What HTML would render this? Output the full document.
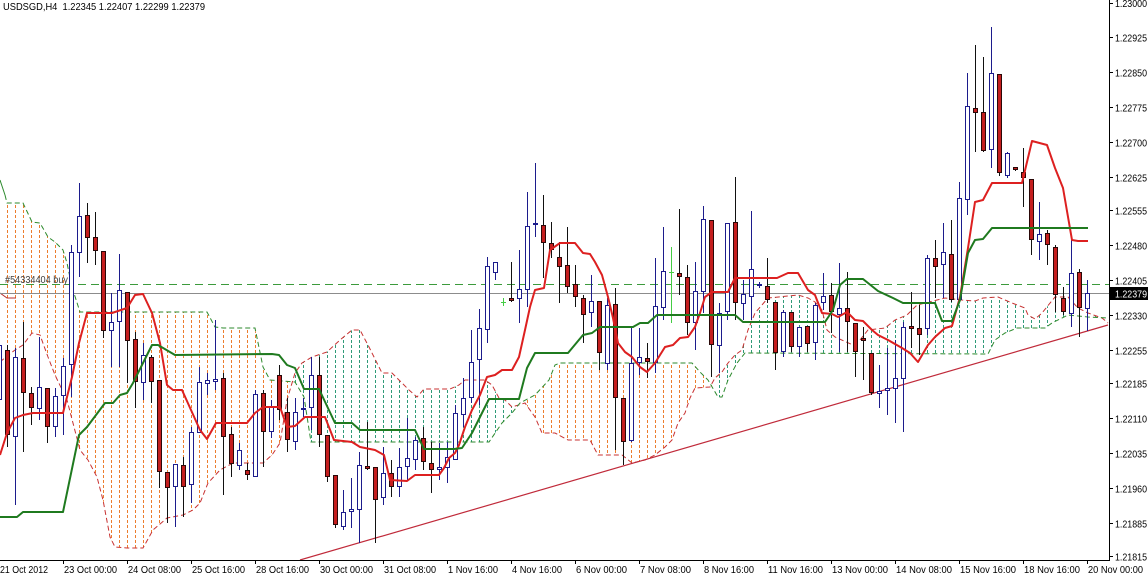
<!DOCTYPE html>
<html><head><meta charset="utf-8"><style>
html,body{margin:0;padding:0;background:#fff;width:1148px;height:575px;overflow:hidden}
svg{display:block}
text{font-family:"Liberation Sans",sans-serif;font-size:10.5px;fill:#000}
.bw{stroke:#1c1c8c;stroke-width:1;fill:none}
.bb{fill:#fff;stroke:#1c1c8c;stroke-width:1}
.rw{stroke:#111;stroke-width:1;fill:none}
.rb{fill:#c41e1e;stroke:#2a0808;stroke-width:1}
</style></head><body>
<svg width="1148" height="575" viewBox="0 0 1148 575" xmlns="http://www.w3.org/2000/svg">
<defs>
<clipPath id="co"><rect x="0" y="0" width="292" height="560"/><rect x="518" y="0" width="194" height="560"/></clipPath>
<clipPath id="ct"><rect x="292" y="0" width="226" height="560"/><rect x="712" y="0" width="397" height="560"/></clipPath>
<clipPath id="cp"><polygon points="0,362 7,356 15,350 23,345 32,333 40,335 48,357 55,375 67,400 80,450 88,460 97,477 103,500 110,537 115,547 127,548 143,548 153,530 167,518 183,515 193,510 200,503 208,483 220,470 233,463 263,463 272,455 280,443 287,400 295,373 302,363 312,357 327,352 340,340 352,330 360,330 369,347 382,373 392,373 409,390 417,397 424,389 450,389 459,385 465,380 485,380 492,385 499,398 505,400 512,407 525,403 535,417 542,433 555,433 568,440 590,440 598,455 622,455 632,463 645,460 655,455 665,447 672,440 678,423 685,413 690,398 695,388 710,387 715,378 722,372 728,363 735,355 742,350 748,330 755,313 768,298 798,295 808,298 815,302 822,310 827,330 835,337 853,345 860,340 868,330 885,328 895,320 907,315 917,305 945,298 962,300 975,301 983,298 998,297 1012,303 1025,308 1028,315 1035,319 1042,313 1055,297 1068,297 1078,308 1088,313 1102,318 1109,323 1109,318 1088,317 1068,315 1052,323 1045,328 1017,328 1005,333 995,340 988,354 745,353 737,363 728,380 722,397 718,397 708,380 700,372 692,363 560,363 555,365 549,380 535,395 520,403 512,413 502,423 489,442 311,442 304,397 295,382 270,380 263,367 255,328 223,328 215,327 207,312 80,312 72,287 67,263 63,250 55,242 48,237 40,223 32,222 23,203 7,203 5,195 0,180"/></clipPath>
<clipPath id="plot"><rect x="0" y="0" width="1109" height="560"/></clipPath>
</defs>
<g clip-path="url(#plot)">
<g clip-path="url(#co)"><g clip-path="url(#cp)"><path fill="none" stroke="#ec7d2e" stroke-width="1" stroke-dasharray="3,2" shape-rendering="crispEdges" d="M7.5 0v560m8-560v560m8-560v560m8-560v560m8-560v560m8-560v560m8-560v560m8-560v560m8-560v560m8-560v560m8-560v560m8-560v560m8-560v560m8-560v560m8-560v560m8-560v560m8-560v560m8-560v560m8-560v560m8-560v560m8-560v560m8-560v560m8-560v560m8-560v560m8-560v560m8-560v560m8-560v560m8-560v560m8-560v560m8-560v560m8-560v560m8-560v560m8-560v560m8-560v560m8-560v560m8-560v560m8-560v560m8-560v560m8-560v560m8-560v560m8-560v560m8-560v560m8-560v560m8-560v560m8-560v560m8-560v560m8-560v560m8-560v560m8-560v560m8-560v560m8-560v560m8-560v560m8-560v560m8-560v560m8-560v560m8-560v560m8-560v560m8-560v560m8-560v560m8-560v560m8-560v560m8-560v560m8-560v560m8-560v560m8-560v560m8-560v560m8-560v560m8-560v560m8-560v560m8-560v560m8-560v560m8-560v560m8-560v560m8-560v560m8-560v560m8-560v560m8-560v560m8-560v560m8-560v560m8-560v560m8-560v560m8-560v560m8-560v560m8-560v560m8-560v560m8-560v560m8-560v560m8-560v560m8-560v560m8-560v560m8-560v560m8-560v560m8-560v560m8-560v560m8-560v560m8-560v560m8-560v560m8-560v560m8-560v560m8-560v560m8-560v560m8-560v560m8-560v560m8-560v560m8-560v560m8-560v560m8-560v560m8-560v560m8-560v560m8-560v560m8-560v560m8-560v560m8-560v560m8-560v560m8-560v560m8-560v560m8-560v560m8-560v560m8-560v560m8-560v560m8-560v560m8-560v560m8-560v560m8-560v560m8-560v560m8-560v560m8-560v560m8-560v560m8-560v560m8-560v560m8-560v560m8-560v560m8-560v560m8-560v560m8-560v560m8-560v560m8-560v560m8-560v560m8-560v560m8-560v560m8-560v560m8-560v560m8-560v560m8-560v560m8-560v560m8-560v560m8-560v560m8-560v560m8-560v560m8-560v560m8-560v560m8-560v560"/></g></g>
<g clip-path="url(#ct)"><g clip-path="url(#cp)"><path fill="none" stroke="#2f9a78" stroke-width="1" stroke-dasharray="3,2" shape-rendering="crispEdges" d="M7.5 0v560m8-560v560m8-560v560m8-560v560m8-560v560m8-560v560m8-560v560m8-560v560m8-560v560m8-560v560m8-560v560m8-560v560m8-560v560m8-560v560m8-560v560m8-560v560m8-560v560m8-560v560m8-560v560m8-560v560m8-560v560m8-560v560m8-560v560m8-560v560m8-560v560m8-560v560m8-560v560m8-560v560m8-560v560m8-560v560m8-560v560m8-560v560m8-560v560m8-560v560m8-560v560m8-560v560m8-560v560m8-560v560m8-560v560m8-560v560m8-560v560m8-560v560m8-560v560m8-560v560m8-560v560m8-560v560m8-560v560m8-560v560m8-560v560m8-560v560m8-560v560m8-560v560m8-560v560m8-560v560m8-560v560m8-560v560m8-560v560m8-560v560m8-560v560m8-560v560m8-560v560m8-560v560m8-560v560m8-560v560m8-560v560m8-560v560m8-560v560m8-560v560m8-560v560m8-560v560m8-560v560m8-560v560m8-560v560m8-560v560m8-560v560m8-560v560m8-560v560m8-560v560m8-560v560m8-560v560m8-560v560m8-560v560m8-560v560m8-560v560m8-560v560m8-560v560m8-560v560m8-560v560m8-560v560m8-560v560m8-560v560m8-560v560m8-560v560m8-560v560m8-560v560m8-560v560m8-560v560m8-560v560m8-560v560m8-560v560m8-560v560m8-560v560m8-560v560m8-560v560m8-560v560m8-560v560m8-560v560m8-560v560m8-560v560m8-560v560m8-560v560m8-560v560m8-560v560m8-560v560m8-560v560m8-560v560m8-560v560m8-560v560m8-560v560m8-560v560m8-560v560m8-560v560m8-560v560m8-560v560m8-560v560m8-560v560m8-560v560m8-560v560m8-560v560m8-560v560m8-560v560m8-560v560m8-560v560m8-560v560m8-560v560m8-560v560m8-560v560m8-560v560m8-560v560m8-560v560m8-560v560m8-560v560m8-560v560m8-560v560"/></g></g>
<polyline fill="none" stroke="#c83232" stroke-width="1" stroke-dasharray="5,3" points="0,362 7,356 15,350 23,345 32,333 40,335 48,357 55,375 67,400 80,450 88,460 97,477 103,500 110,537 115,547 127,548 143,548 153,530 167,518 183,515 193,510 200,503 208,483 220,470 233,463 263,463 272,455 280,443 287,400 295,373 302,363 312,357 327,352 340,340 352,330 360,330 369,347 382,373 392,373 409,390 417,397 424,389 450,389 459,385 465,380 485,380 492,385 499,398 505,400 512,407 525,403 535,417 542,433 555,433 568,440 590,440 598,455 622,455 632,463 645,460 655,455 665,447 672,440 678,423 685,413 690,398 695,388 710,387 715,378 722,372 728,363 735,355 742,350 748,330 755,313 768,298 798,295 808,298 815,302 822,310 827,330 835,337 853,345 860,340 868,330 885,328 895,320 907,315 917,305 945,298 962,300 975,301 983,298 998,297 1012,303 1025,308 1028,315 1035,319 1042,313 1055,297 1068,297 1078,308 1088,313 1102,318 1108,323"/>
<polyline fill="none" stroke="#b83030" stroke-width="1" points="0,293 7,298 16,298"/>
<polyline fill="none" stroke="#2d8a2d" stroke-width="1" stroke-dasharray="5,3" points="5,195 7,203 23,203 32,222 40,223 48,237 55,242 63,250 67,263 72,287 80,312 207,312 215,327 223,328 255,328 263,367 270,380 295,382 304,397 311,442 489,442 502,423 512,413 520,403 535,395 549,380 555,365 560,363 692,363 700,372 708,380 718,397 722,397 728,380 737,363 745,353 988,354 995,340 1005,333 1017,328 1045,328 1052,323 1068,315 1088,317 1108,318"/>
<polyline fill="none" stroke="#2d8a2d" stroke-width="1" points="0,180 5,195"/>
<line x1="0" y1="284.5" x2="1109" y2="284.5" stroke="#3c9a3c" stroke-width="1" stroke-dasharray="8,5"/>
<line x1="0" y1="293.5" x2="1109" y2="293.5" stroke="#8c8c8c" stroke-width="1"/>
<line x1="300" y1="560" x2="1108" y2="325" stroke="#c02a3a" stroke-width="1.2"/>
<text x="5" y="283" textLength="63" lengthAdjust="spacingAndGlyphs" style="font-size:10px;fill:#404040">#54334404 buy</text>

<path class="bw" d="M-0.5 340V410M15.5 348V505M39.5 337V420M55.5 388V437M63.5 358V435M71.5 245V397M79.5 183V277M111.5 293V367M119.5 254V367M143.5 343V400M175.5 464V527M191.5 427V503M199.5 367V433M207.5 373V395M215.5 320V390M239.5 443V470M255.5 390V477M271.5 400V438M295.5 398V450M303.5 398V417M311.5 357V430M343.5 490V530M351.5 478V528M359.5 452V543M383.5 447V505M399.5 448V497M407.5 418V480M415.5 437V470M439.5 443V480M447.5 442V483M455.5 405V460M463.5 378V427M471.5 330V403M479.5 309V405M487.5 257V343M495.5 262V280M519.5 250V323M527.5 192V307M535.5 163V237M591.5 275V327M607.5 298V370M631.5 328V442M639.5 328V375M655.5 258V373M663.5 227V320M695.5 262V350M703.5 206V313M719.5 303V373M727.5 223V320M743.5 280V320M751.5 211V320M759.5 282V288M783.5 310V357M799.5 327V357M815.5 303V360M823.5 273V310M839.5 263V352M879.5 365V408M887.5 348V415M895.5 340V423M903.5 322V432M927.5 255V335M943.5 223V298M959.5 182V302M967.5 73V215M991.5 27V168M1007.5 152V178M1039.5 202V260M1071.5 238V327M1087.5 280V331"/>
<path class="rw" d="M7.5 345V447M23.5 322V452M31.5 387V425M47.5 388V443M87.5 203V263M95.5 212V265M103.5 251V338M127.5 292V383M135.5 332V408M151.5 355V403M159.5 380V488M167.5 472V523M183.5 457V517M223.5 373V495M231.5 427V477M247.5 463V480M263.5 390V467M279.5 365V420M287.5 398V452M319.5 357V447M327.5 435V482M335.5 475V528M367.5 422V470M375.5 467V543M391.5 460V497M423.5 427V470M431.5 442V493M511.5 262V302M543.5 195V278M551.5 222V258M559.5 242V303M567.5 227V293M575.5 265V307M583.5 295V343M599.5 301V370M615.5 288V450M623.5 398V465M647.5 343V378M679.5 209V295M687.5 265V335M711.5 220V377M735.5 177V320M767.5 258V303M775.5 302V370M791.5 312V352M807.5 326V352M831.5 283V333M847.5 272V352M855.5 323V377M863.5 327V380M871.5 353V395M911.5 292V348M919.5 305V355M935.5 240V298M951.5 220V302M975.5 45V152M983.5 57V152M999.5 74V176M1015.5 167V171M1023.5 148V207M1031.5 179V255M1047.5 230V265M1055.5 245V312M1063.5 287V315M1079.5 269V337"/>
<path stroke="#44cc44" stroke-width="1" fill="none" d="M503.5 298V306M501 302.5H506M671.5 247V323M669 272.5H674"/>
<g class="bb">
<rect x="-2.5" y="345.5" width="4" height="54"/><rect x="13.5" y="357.5" width="4" height="79"/><rect x="37.5" y="387.5" width="4" height="21"/><rect x="53.5" y="396.5" width="4" height="30"/><rect x="61.5" y="366.5" width="4" height="29"/><rect x="69.5" y="252.5" width="4" height="112"/><rect x="77.5" y="216.5" width="4" height="36"/><rect x="109.5" y="322.5" width="4" height="8"/><rect x="117.5" y="290.5" width="4" height="31"/><rect x="141.5" y="355.5" width="4" height="27"/><rect x="173.5" y="464.5" width="4" height="22"/><rect x="189.5" y="432.5" width="4" height="52"/><rect x="197.5" y="382.5" width="4" height="50"/><rect x="205.5" y="380.5" width="4" height="3"/><rect x="213.5" y="379.5" width="4" height="2"/><rect x="237.5" y="450.5" width="4" height="15"/><rect x="253.5" y="394.5" width="4" height="82"/><rect x="269.5" y="406.5" width="4" height="25"/><rect x="293.5" y="412.5" width="4" height="29"/><rect x="301.5" y="408.5" width="4" height="1"/><rect x="309.5" y="375.5" width="4" height="32"/><rect x="341.5" y="512.5" width="4" height="14"/><rect x="349.5" y="509.5" width="4" height="2"/><rect x="357.5" y="465.5" width="4" height="44"/><rect x="381.5" y="473.5" width="4" height="24"/><rect x="397.5" y="467.5" width="4" height="19"/><rect x="405.5" y="458.5" width="4" height="8"/><rect x="413.5" y="440.5" width="4" height="19"/><rect x="437.5" y="467.5" width="4" height="2"/><rect x="445.5" y="457.5" width="4" height="10"/><rect x="453.5" y="413.5" width="4" height="46"/><rect x="461.5" y="398.5" width="4" height="16"/><rect x="469.5" y="362.5" width="4" height="35"/><rect x="477.5" y="328.5" width="4" height="31"/><rect x="485.5" y="266.5" width="4" height="63"/><rect x="493.5" y="262.5" width="4" height="10"/><rect x="517.5" y="289.5" width="4" height="9"/><rect x="525.5" y="226.5" width="4" height="63"/><rect x="533.5" y="223.5" width="4" height="1"/><rect x="589.5" y="301.5" width="4" height="11"/><rect x="605.5" y="305.5" width="4" height="58"/><rect x="629.5" y="363.5" width="4" height="77"/><rect x="637.5" y="357.5" width="4" height="5"/><rect x="653.5" y="306.5" width="4" height="56"/><rect x="661.5" y="271.5" width="4" height="36"/><rect x="693.5" y="291.5" width="4" height="31"/><rect x="701.5" y="219.5" width="4" height="72"/><rect x="717.5" y="313.5" width="4" height="32"/><rect x="725.5" y="223.5" width="4" height="88"/><rect x="741.5" y="294.5" width="4" height="9"/><rect x="749.5" y="269.5" width="4" height="27"/><rect x="757.5" y="284.5" width="4" height="1"/><rect x="781.5" y="312.5" width="4" height="39"/><rect x="797.5" y="327.5" width="4" height="19"/><rect x="813.5" y="305.5" width="4" height="37"/><rect x="821.5" y="296.5" width="4" height="6"/><rect x="837.5" y="308.5" width="4" height="6"/><rect x="877.5" y="391.5" width="4" height="2"/><rect x="885.5" y="388.5" width="4" height="2"/><rect x="893.5" y="378.5" width="4" height="10"/><rect x="901.5" y="327.5" width="4" height="51"/><rect x="925.5" y="258.5" width="4" height="70"/><rect x="941.5" y="252.5" width="4" height="12"/><rect x="957.5" y="198.5" width="4" height="101"/><rect x="965.5" y="106.5" width="4" height="93"/><rect x="989.5" y="73.5" width="4" height="76"/><rect x="1005.5" y="153.5" width="4" height="22"/><rect x="1037.5" y="234.5" width="4" height="7"/><rect x="1069.5" y="273.5" width="4" height="40"/><rect x="1085.5" y="293.5" width="4" height="15"/>
</g>
<g class="rb">
<rect x="5.5" y="350.5" width="4" height="84"/><rect x="21.5" y="358.5" width="4" height="34"/><rect x="29.5" y="393.5" width="4" height="14"/><rect x="45.5" y="388.5" width="4" height="38"/><rect x="85.5" y="215.5" width="4" height="22"/><rect x="93.5" y="237.5" width="4" height="13"/><rect x="101.5" y="251.5" width="4" height="79"/><rect x="125.5" y="292.5" width="4" height="48"/><rect x="133.5" y="339.5" width="4" height="42"/><rect x="149.5" y="357.5" width="4" height="24"/><rect x="157.5" y="380.5" width="4" height="91"/><rect x="165.5" y="472.5" width="4" height="15"/><rect x="181.5" y="465.5" width="4" height="21"/><rect x="221.5" y="378.5" width="4" height="58"/><rect x="229.5" y="434.5" width="4" height="29"/><rect x="245.5" y="470.5" width="4" height="4"/><rect x="261.5" y="393.5" width="4" height="38"/><rect x="277.5" y="375.5" width="4" height="34"/><rect x="285.5" y="412.5" width="4" height="27"/><rect x="317.5" y="375.5" width="4" height="59"/><rect x="325.5" y="435.5" width="4" height="41"/><rect x="333.5" y="475.5" width="4" height="49"/><rect x="365.5" y="466.5" width="4" height="2"/><rect x="373.5" y="467.5" width="4" height="32"/><rect x="389.5" y="473.5" width="4" height="13"/><rect x="421.5" y="438.5" width="4" height="23"/><rect x="429.5" y="463.5" width="4" height="6"/><rect x="509.5" y="298.5" width="4" height="2"/><rect x="541.5" y="225.5" width="4" height="17"/><rect x="549.5" y="243.5" width="4" height="6"/><rect x="557.5" y="257.5" width="4" height="9"/><rect x="565.5" y="265.5" width="4" height="21"/><rect x="573.5" y="284.5" width="4" height="12"/><rect x="581.5" y="298.5" width="4" height="16"/><rect x="597.5" y="301.5" width="4" height="51"/><rect x="613.5" y="304.5" width="4" height="93"/><rect x="621.5" y="398.5" width="4" height="43"/><rect x="645.5" y="358.5" width="4" height="3"/><rect x="677.5" y="273.5" width="4" height="3"/><rect x="685.5" y="277.5" width="4" height="45"/><rect x="709.5" y="220.5" width="4" height="124"/><rect x="733.5" y="222.5" width="4" height="80"/><rect x="765.5" y="286.5" width="4" height="13"/><rect x="773.5" y="302.5" width="4" height="50"/><rect x="789.5" y="312.5" width="4" height="34"/><rect x="805.5" y="326.5" width="4" height="17"/><rect x="829.5" y="295.5" width="4" height="16"/><rect x="845.5" y="308.5" width="4" height="13"/><rect x="853.5" y="323.5" width="4" height="28"/><rect x="861.5" y="338.5" width="4" height="2"/><rect x="869.5" y="353.5" width="4" height="39"/><rect x="909.5" y="326.5" width="4" height="2"/><rect x="917.5" y="328.5" width="4" height="6"/><rect x="933.5" y="258.5" width="4" height="8"/><rect x="949.5" y="254.5" width="4" height="45"/><rect x="973.5" y="108.5" width="4" height="4"/><rect x="981.5" y="112.5" width="4" height="38"/><rect x="997.5" y="74.5" width="4" height="98"/><rect x="1013.5" y="167.5" width="4" height="2"/><rect x="1021.5" y="172.5" width="4" height="5"/><rect x="1029.5" y="179.5" width="4" height="60"/><rect x="1045.5" y="233.5" width="4" height="11"/><rect x="1053.5" y="247.5" width="4" height="47"/><rect x="1061.5" y="298.5" width="4" height="13"/><rect x="1077.5" y="272.5" width="4" height="35"/>
</g>
<polyline fill="none" stroke="#dd2020" stroke-width="2" stroke-linejoin="round" points="0,455 7,433 15,418 23,415 33,413 63,413 72,377 79,343 87,313 112,313 127,308 135,295 143,294 152,313 160,343 167,385 173,390 182,390 200,430 207,439 216,423 247,423 255,413 263,407 280,407 287,427 295,426 305,417 325,417 334,440 352,442 360,447 375,450 384,455 390,480 407,481 415,475 439,475 444,468 449,458 455,453 459,445 465,427 472,410 480,395 487,377 495,375 502,370 512,370 519,357 525,330 530,307 535,290 544,288 550,250 560,243 575,243 583,253 590,254 595,262 602,275 608,297 613,318 618,343 625,352 632,357 640,367 647,372 655,363 665,347 673,345 680,338 688,337 695,327 700,313 705,297 712,292 728,292 735,278 777,278 788,273 798,273 808,290 815,295 822,313 832,314 838,317 847,312 855,320 863,321 872,330 878,335 888,340 902,348 910,353 918,362 928,345 935,337 945,328 952,326 960,297 968,248 975,202 983,200 992,183 1022,183 1032,141 1047,145 1055,168 1063,188 1072,240 1078,241 1088,241"/>
<polyline fill="none" stroke="#1f7a1f" stroke-width="2" stroke-linejoin="round" points="0,517 17,517 23,512 63,512 79,435 87,427 105,403 113,403 120,395 127,393 133,383 143,363 152,345 158,345 175,355 272,354 279,355 287,365 295,368 304,389 319,389 335,423 352,423 360,430 415,430 424,449 454,449 462,448 472,433 480,417 489,399 519,399 527,368 535,353 568,353 583,335 592,333 600,327 633,327 640,323 648,323 657,315 735,315 743,322 825,322 833,310 840,285 847,279 863,279 878,291 893,298 903,303 935,303 942,321 952,321 960,300 968,253 975,240 983,239 992,228 1088,228"/>
</g>

<path stroke="#000" stroke-width="1" fill="none" d="M1109.5 0V561M0 560.5H1110"/>
<path stroke="#000" stroke-width="1" fill="none" d="M1110 3.5h3M1110 37.5h3M1110 72.5h3M1110 107.5h3M1110 142.5h3M1110 177.5h3M1110 210.5h3M1110 245.5h3M1110 280.5h3M1110 315.5h3M1110 350.5h3M1110 383.5h3M1110 418.5h3M1110 453.5h3M1110 488.5h3M1110 523.5h3M1110 556.5h3M63.5 561v3M127.5 561v3M191.5 561v3M255.5 561v3M319.5 561v3M383.5 561v3M447.5 561v3M511.5 561v3M575.5 561v3M639.5 561v3M703.5 561v3M767.5 561v3M831.5 561v3M895.5 561v3M959.5 561v3M1023.5 561v3M1087.5 561v3"/>

<g>
<text x="1115" y="7" textLength="32" lengthAdjust="spacingAndGlyphs">1.23000</text>
<text x="1115" y="41.5" textLength="32" lengthAdjust="spacingAndGlyphs">1.22925</text>
<text x="1115" y="76.5" textLength="32" lengthAdjust="spacingAndGlyphs">1.22850</text>
<text x="1115" y="111.5" textLength="32" lengthAdjust="spacingAndGlyphs">1.22775</text>
<text x="1115" y="146.5" textLength="32" lengthAdjust="spacingAndGlyphs">1.22700</text>
<text x="1115" y="181.5" textLength="32" lengthAdjust="spacingAndGlyphs">1.22625</text>
<text x="1115" y="214.5" textLength="32" lengthAdjust="spacingAndGlyphs">1.22555</text>
<text x="1115" y="249.5" textLength="32" lengthAdjust="spacingAndGlyphs">1.22480</text>
<text x="1115" y="284.5" textLength="32" lengthAdjust="spacingAndGlyphs">1.22405</text>
<text x="1115" y="319.5" textLength="32" lengthAdjust="spacingAndGlyphs">1.22330</text>
<text x="1115" y="354.5" textLength="32" lengthAdjust="spacingAndGlyphs">1.22255</text>
<text x="1115" y="387.5" textLength="32" lengthAdjust="spacingAndGlyphs">1.22185</text>
<text x="1115" y="422.5" textLength="32" lengthAdjust="spacingAndGlyphs">1.22110</text>
<text x="1115" y="457.5" textLength="32" lengthAdjust="spacingAndGlyphs">1.22035</text>
<text x="1115" y="492.5" textLength="32" lengthAdjust="spacingAndGlyphs">1.21960</text>
<text x="1115" y="527.5" textLength="32" lengthAdjust="spacingAndGlyphs">1.21885</text>
<text x="1115" y="560.5" textLength="32" lengthAdjust="spacingAndGlyphs">1.21815</text>
</g>
<rect x="1110" y="287" width="38" height="13" fill="#000"/>
<text x="1115" y="297.5" textLength="32" lengthAdjust="spacingAndGlyphs" style="fill:#fff">1.22379</text>

<g>
<text x="0" y="573" textLength="48" lengthAdjust="spacingAndGlyphs">21 Oct 2012</text>
<text x="64" y="573" textLength="53" lengthAdjust="spacingAndGlyphs">23 Oct 00:00</text>
<text x="128" y="573" textLength="53" lengthAdjust="spacingAndGlyphs">24 Oct 08:00</text>
<text x="192" y="573" textLength="53" lengthAdjust="spacingAndGlyphs">25 Oct 16:00</text>
<text x="256" y="573" textLength="53" lengthAdjust="spacingAndGlyphs">28 Oct 16:00</text>
<text x="320" y="573" textLength="53" lengthAdjust="spacingAndGlyphs">30 Oct 00:00</text>
<text x="384" y="573" textLength="52" lengthAdjust="spacingAndGlyphs">31 Oct 08:00</text>
<text x="448" y="573" textLength="50" lengthAdjust="spacingAndGlyphs">1 Nov 16:00</text>
<text x="512" y="573" textLength="50" lengthAdjust="spacingAndGlyphs">4 Nov 16:00</text>
<text x="576" y="573" textLength="51" lengthAdjust="spacingAndGlyphs">6 Nov 00:00</text>
<text x="640" y="573" textLength="51" lengthAdjust="spacingAndGlyphs">7 Nov 08:00</text>
<text x="704" y="573" textLength="50" lengthAdjust="spacingAndGlyphs">8 Nov 16:00</text>
<text x="768" y="573" textLength="55" lengthAdjust="spacingAndGlyphs">11 Nov 16:00</text>
<text x="832" y="573" textLength="56" lengthAdjust="spacingAndGlyphs">13 Nov 00:00</text>
<text x="896" y="573" textLength="56" lengthAdjust="spacingAndGlyphs">14 Nov 08:00</text>
<text x="960" y="573" textLength="56" lengthAdjust="spacingAndGlyphs">15 Nov 16:00</text>
<text x="1024" y="573" textLength="56" lengthAdjust="spacingAndGlyphs">18 Nov 16:00</text>
<text x="1088" y="573" textLength="55" lengthAdjust="spacingAndGlyphs">20 Nov 00:00</text>
</g>
<text x="3" y="10" textLength="202" lengthAdjust="spacingAndGlyphs" xml:space="preserve">USDSGD,H4  1.22345 1.22407 1.22299 1.22379</text>
</svg>
</body></html>
